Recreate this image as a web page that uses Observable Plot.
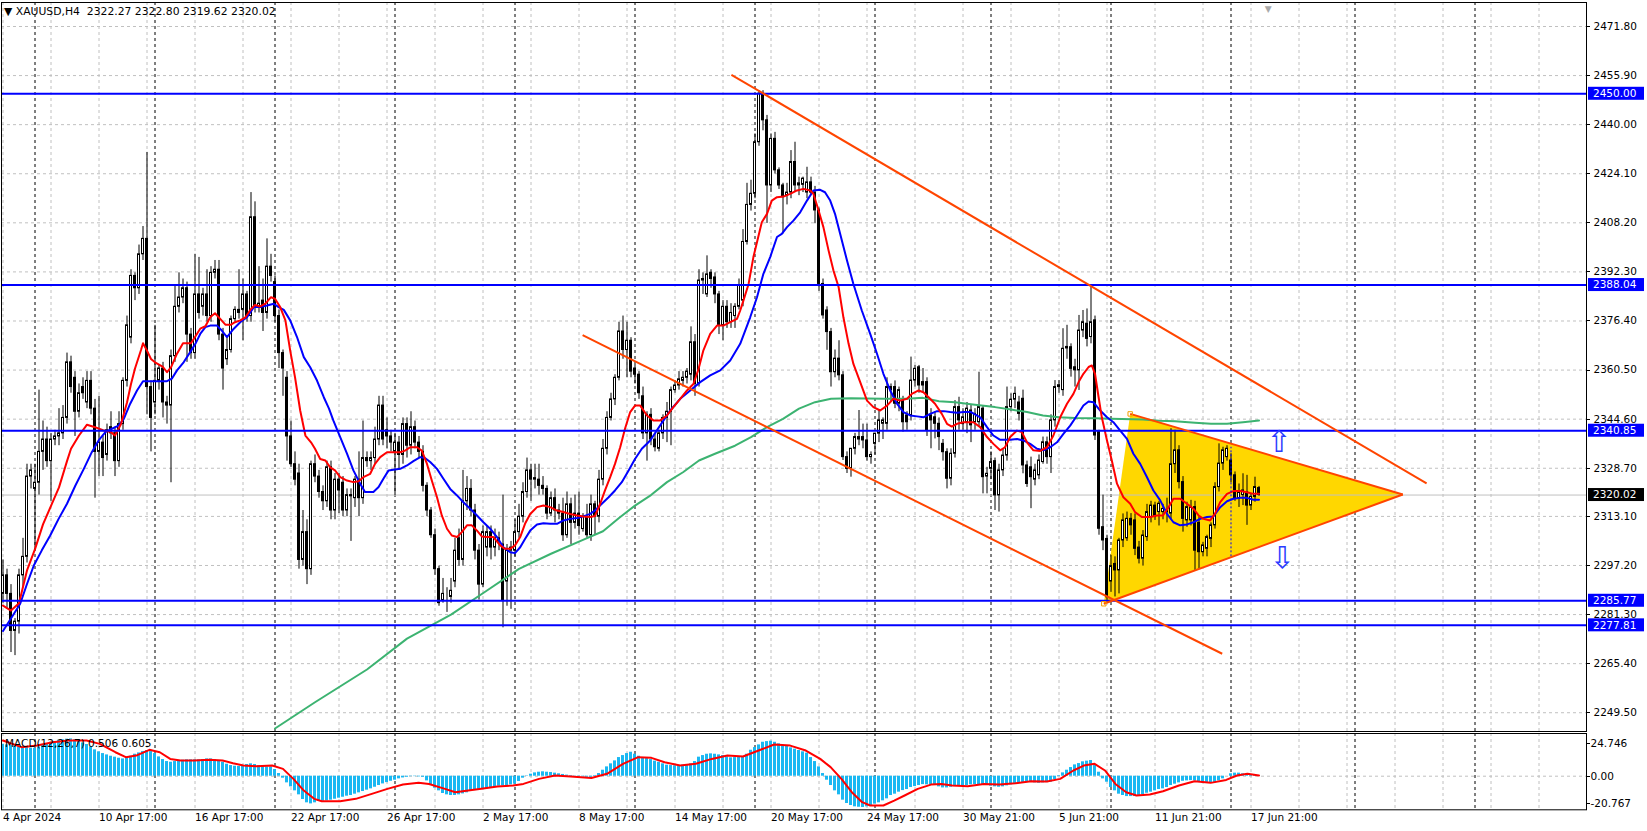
<!DOCTYPE html>
<html>
<head>
<meta charset="utf-8">
<script src="https://cdn.jsdelivr.net/npm/d3@7"></script>
<script src="https://cdn.jsdelivr.net/npm/@observablehq/plot@0.6"></script>
<style>
html,body{margin:0;padding:0;background:#fff;}
#chart{position:relative;width:1647px;height:831px;overflow:hidden;background:#fff;font-family:"DejaVu Sans",sans-serif;}
#chart svg{position:absolute;left:0;}
#title{position:absolute;left:4px;top:5px;font-size:10.8px;color:#000;white-space:pre;z-index:2;}
#macdlabel{position:absolute;left:5px;top:737px;font-size:10.5px;color:#000;white-space:pre;z-index:2;}
</style>
</head>
<body>
<div id="chart">
<div id="title">▼ XAUUSD,H4  2322.27 2322.80 2319.62 2320.02</div>
<div id="macdlabel">MACD(12,26,7) 0.506 0.605</div>
</div>
<script>
// ---------- DATA ----------
const opens = [
2288,2294,2288,2276,2279,2294,2300,2326,2322,2324,
2334,2338,2331,2338,2339,2340,2345,2363,2358,2347,
2355,2350,2357,2348,2334,2337,2333,2342,2340,2331,
2343,2357,2371,2391,2387,2398,2403,2355,2350,2357,
2361,2350,2349,2365,2381,2384,2387,2372,2366,2385,
2381,2385,2378,2392,2393,2372,2364,2367,2377,2380,
2380,2385,2378,2410,2381,2383,2379,2394,2389,2378,
2366,2358,2339,2330,2327,2299,2308,2296,2330,2326,
2321,2318,2329,2315,2325,2324,2315,2320,2319,2325,
2319,2332,2331,2332,2338,2349,2341,2339,2334,2337,
2333,2343,2336,2342,2337,2334,2323,2315,2307,2296,
2286,2288,2287,2292,2306,2299,2318,2322,2315,2302,
2291,2303,2308,2303,2306,2304,2292,2302,2302,2308,
2313,2321,2328,2325,2325,2323,2322,2314,2319,2315,
2314,2307,2317,2311,2314,2309,2313,2307,2317,2313,
2325,2335,2345,2351,2358,2373,2367,2370,2361,2359,
2352,2340,2346,2338,2335,2340,2345,2347,2354,2355.5,
2357,2358,2359,2369.5,2356,2389.5,2385,2392,2390.5,2385,
2375,2381,2376,2378,2381,2383,2402,2414,2417.6,2434.3,
2450,2441.4,2420.3,2435.4,2425.2,2420.3,2417,2418,2427.9,2420.3,
2420.5,2418,2421.3,2418,2412.2,2388.4,2379.8,2372.8,2359.8,2364.2,
2358.8,2332.3,2328.5,2335,2338,2338.8,2337.7,2332.3,2336.6,2339.9,
2343.1,2343.1,2355,2355,2349.6,2350.5,2345.8,2345.8,2357.1,2361.4,
2356.6,2356.6,2345.8,2345.2,2343.1,2336.6,2333.9,2325.3,2333.4,2348.5,
2343,2343.6,2347.4,2343.6,2343.6,2348,2326,2328.5,2331,2319.9,
2328,2332.8,2348.5,2350.9,2350,2351.2,2329.6,2329,2325,2326.4,
2330.7,2337.1,2332.3,2344.2,2355,2354,2368,2367.9,2361.4,2360.4,
2373.3,2375.5,2371.2,2376.6,2340.4,2309.6,2305.8,2292,2297.7,2295.6,
2305.3,2306,2312.3,2311.8,2303,2299.4,2306.4,2312.9,2316.6,2314.5,
2314.5,2314.5,2314,2330,2334.5,2324.2,2311.8,2311.8,2316.1,2311,
2301.5,2302.6,2305.8,2310.2,2322.6,2330.2,2332.3,2331.2,2326.4,2318.8,
2320,2321,2316.6,2319.4,2322.27];
const highs = [
2299,2296,2291,2280,2296,2306,2330,2330,2330,2354,
2344,2342,2340,2341,2348,2349,2366,2365,2360,2356,
2358,2360,2360,2351,2352,2339,2343,2347,2342,2347,
2358,2378,2393,2392,2401,2407,2431,2357,2375,2362,
2363,2352,2367,2388,2392,2390,2389,2374,2398,2397,
2387,2393,2394,2396,2396,2374,2371,2378,2381,2393,
2390,2386,2418,2415,2394,2390,2403,2398,2391,2380,
2367,2360,2344,2334,2330,2315,2312,2331,2333,2328,
2323,2331,2331,2327,2327,2326,2322,2322,2326,2334,
2344,2334,2334,2342,2352,2352,2345,2341,2340,2339,
2345,2345,2347,2344,2339,2336,2324,2316,2309,2297,
2293,2290,2293,2306,2309,2328,2326,2325,2317,2304,
2310,2310,2310,2309,2308,2320,2304,2305,2312,2317,
2324,2332,2330,2330,2330,2326,2323,2321,2322,2317,
2319,2321,2319,2320,2321,2314,2317,2320,2318,2328,
2338,2347,2353,2359,2376,2378,2376,2371,2362,2360,
2355,2347,2348,2340,2341,2346,2350,2355,2357,2360,
2360,2361,2374.5,2372,2393,2392,2397.5,2393,2392,2386,
2383,2383,2382,2382,2390,2406,2421,2422,2437,2451,
2451,2443,2437,2437.5,2426,2421,2421,2431.6,2434.3,2423,
2423,2426.2,2423,2420,2413,2390,2381,2374,2367,2370,
2360,2334,2335,2340,2347.4,2343,2343,2334,2340,2347.4,
2345,2358,2356,2357,2355,2352,2347,2364.7,2362,2362,
2361,2358,2348,2347,2345,2338,2335,2335,2350.6,2351.7,
2348,2350,2349,2348,2359.8,2349,2329,2334,2332,2330,
2335,2355,2352.8,2355,2352,2354,2331,2332.3,2330,2333,
2338.8,2338.8,2346,2357.1,2357.1,2373.9,2375,2369,2364,2378.2,
2379.8,2380.3,2387.9,2378,2341,2320,2307,2300.5,2300,2306,
2313.9,2314.5,2314,2313.9,2305,2308.5,2317,2318,2317.7,2318,
2317,2319,2341.5,2341,2336,2326,2317.7,2318.3,2318,2313,
2304.7,2307,2311,2324,2336.6,2335.5,2336,2333.4,2327.5,2323.6,
2326.9,2326.4,2320.5,2325.8,2322.8];
const lows = [
2285,2283,2269,2268,2275,2290,2298,2322,2302,2320,
2328,2329,2318,2336,2336,2338,2343,2353,2339,2345,
2351,2348,2346,2319,2326,2326,2331,2338,2326,2329,
2341,2355,2369,2383,2385,2396,2346,2334,2346,2354,
2345,2343,2324,2363,2379,2382,2363,2364,2364,2377,
2378,2376,2376,2390,2370,2354,2362,2366,2376,2377,
2370,2376,2376,2379,2379,2373,2377,2389,2376,2361,
2352,2331,2329,2323,2296,2297,2291,2294,2324,2319,
2315,2316,2312,2312,2314,2313,2313,2305,2316,2313,
2317,2329,2328,2330,2336,2336,2335,2334,2320,2328,
2330,2332,2333,2335,2332,2321,2313,2306,2294,2284,
2285,2282,2285,2290,2297,2297,2315,2313,2299,2286,
2290,2300,2299,2300,2302,2277,2284,2283,2300,2306,
2311,2319,2318,2322,2320,2320,2312,2313,2311,2312,
2305,2306,2304,2309,2307,2308,2306,2305,2307,2311,
2323,2333,2344,2349,2357,2364,2358,2358,2356,2351,
2338,2331,2336,2334,2334,2338,2337,2336,2353,2354,
2355,2356,2357,2352,2355,2385,2384,2387,2382,2372,
2370,2374,2374,2374,2380,2381,2401,2412,2416,2433,
2438,2408,2418,2424,2419,2404.6,2414,2416,2418,2417,
2418,2416,2417,2407.9,2386,2377,2366.9,2355,2358,2357,
2331.2,2327,2325.8,2333,2336,2335,2331,2330,2333,2337,
2338,2341,2350,2348,2347,2340.4,2341,2344,2355,2353,
2353,2339,2335,2338.2,2334.4,2331,2322,2323,2332,2341,
2341,2339.9,2337,2341,2342,2320.4,2320.4,2325,2315,2314.5,
2326,2331,2347,2348,2344,2326.9,2322.5,2315.6,2323,2325,
2330,2330,2327,2342,2353,2352,2364,2358.2,2355,2353.9,
2371,2368,2369,2337.7,2307,2302,2285.9,2288.5,2287,2288,
2303,2305,2307,2300.4,2297.7,2297,2305,2311,2311.8,2310,
2312,2311,2312,2327,2322,2308,2309.6,2310,2295.6,2296,
2300,2300,2303,2309,2321,2328,2331,2324,2318,2316,
2316.6,2310.2,2315,2317.7,2319.62];
const closes = [
2294,2288,2276,2279,2294,2300,2326,2328,2324,2334,
2338,2331,2338,2339,2340,2345,2363,2355,2347,2353,
2353,2357,2348,2334,2337,2332,2341,2340,2331,2343,
2357,2375,2391,2387,2398,2403,2355,2345,2357,2361,
2350,2349,2365,2381,2384,2387,2372,2366,2385,2379,
2385,2378,2392,2393,2372,2361,2367,2377,2380,2379,
2385,2378,2410,2381,2382,2379,2394,2391,2378,2366,
2361,2339,2330,2325,2299,2308,2296,2330,2326,2321,
2318,2329,2315,2325,2321.5,2315,2320,2319.6,2325,2319,
2332,2331,2332,2338,2349,2338,2339,2337,2337,2333,
2343,2336,2342,2337,2334,2323,2315,2307,2296,2285,
2288,2288,2289,2302,2299,2318,2322,2315,2302,2291,
2308,2308,2303,2306,2305,2286,2302,2303,2308,2313,
2321,2328,2325,2325.5,2323,2322,2314,2319,2315,2314,
2307,2317,2311,2314,2310,2313,2307,2317,2313,2325,
2335,2345,2351,2358,2373,2367,2370,2360,2359,2353,
2340,2346,2338,2335.5,2340,2345,2347,2354,2355.5,2357.5,
2358,2360,2369.5,2356,2389.5,2390,2391.5,2390,2385,2375,
2381,2376,2379,2381,2388,2402,2414,2417.6,2434.3,2450,
2441.4,2420.3,2435.4,2425.2,2420.3,2416.5,2418,2427.9,2420.3,2421,
2422.5,2421.3,2418,2412.2,2388.4,2378.2,2372.8,2359.8,2364.2,2358.8,
2332.3,2328.5,2335,2338.8,2338.8,2337.7,2332.3,2333,2339.9,2344.2,
2344.2,2355,2354,2349.6,2354,2343.6,2343.6,2357.1,2360.9,2355.5,
2355.5,2340.9,2344.2,2343.1,2338.8,2333.9,2325.3,2333.4,2348.5,2344.2,
2345.2,2348,2342.6,2346.3,2348.5,2325.8,2326.9,2330.7,2319.9,2328,
2332.8,2348.5,2350.9,2352.8,2346.3,2329.6,2323.6,2325.8,2328,2331.2,
2337.1,2332.3,2344.2,2355,2355.6,2367.4,2367.5,2360.9,2360.4,2373.3,
2376,2370.6,2376,2339.3,2309.1,2305.3,2286.9,2297,2295.6,2305.3,
2311.8,2312.3,2310.2,2302.6,2299.4,2306.9,2314.5,2316.6,2312.9,2317.2,
2315.5,2315,2330,2334.5,2324.2,2312.3,2316.1,2316.1,2302,2301.5,
2303.7,2306.4,2310.2,2322.6,2330.2,2334.5,2335,2326.4,2318.8,2321,
2321.5,2316.6,2319.4,2322.6,2320.02];

// moving averages: [bar, value]
const redMA = [[0,2284.2],[2,2282.6],[4,2285],[6,2295.6],[8,2302.5],[10,2310.5],[12,2316.5],[14,2322.5],[16,2331],[17,2335],[19,2339.3],[21,2342.8],[23,2342],[25,2341],[27,2340.4],[28,2339.3],[29.5,2343],[31,2350],[32,2356],[33,2361],[34.5,2367],[35,2369.2],[36,2366.8],[37,2364.1],[38,2363],[40,2361.5],[41,2359.8],[42,2361.4],[43.5,2365.8],[45,2369.2],[47,2369.2],[48,2371.2],[49.3,2373.9],[50.6,2374.7],[51.8,2377.6],[53,2378.9],[54.3,2377.1],[55.6,2375.2],[57,2375.2],[58,2376],[59.3,2376.6],[60.6,2377.6],[62,2380.3],[63,2381.6],[64.3,2381.1],[65.6,2382],[67,2384.1],[68,2383.6],[69.3,2380.9],[70.6,2376.6],[71.8,2366.8],[73,2358.2],[74.3,2347.4],[75.6,2339.3],[77,2337.1],[78,2335],[79.3,2331.7],[80.6,2331.2],[81.8,2329],[83,2328],[84.3,2325.8],[86,2324.7],[87.6,2324.2],[88.9,2324.5],[90.1,2325.8],[91.8,2326.9],[93,2330.1],[94.3,2332.3],[96,2333.9],[97.6,2333.9],[99.3,2333.9],[100.5,2334.4],[101.8,2335.5],[103.5,2335.5],[104.7,2334.4],[106,2330.1],[107.2,2324.7],[108.5,2319.3],[109.7,2313.4],[111,2309.1],[112.2,2306.9],[113.5,2306.4],[114.7,2308],[116,2310.2],[117.2,2310.2],[118.5,2308.5],[119.7,2306.6],[121,2306.4],[122.6,2306.4],[124.3,2303.7],[125.5,2302.6],[126.8,2302.6],[128,2303.7],[129.3,2306.4],[130.5,2310.7],[131.8,2313.9],[133.5,2316.1],[135.1,2316.6],[136.8,2316.1],[138.5,2315],[140.1,2314.5],[141.8,2313.9],[143.5,2313.4],[145.1,2313.1],[146.8,2312.9],[148,2313.2],[149.3,2317.2],[150.5,2321.5],[151.8,2325.8],[153,2330.1],[154.3,2335.5],[155.5,2341.5],[156.8,2346.9],[158,2349],[159.3,2349],[161,2345.8],[162.6,2344.2],[164.3,2344.2],[166,2345.8],[167.6,2348.5],[169.3,2351.2],[171,2353.9],[172.6,2356],[173.9,2360.9],[175.1,2366.9],[176.8,2372.2],[178.5,2374.9],[180.1,2374.9],[181.8,2376],[183.5,2377.1],[184.3,2379.8],[185.1,2383],[186.4,2388.4],[187.6,2397.1],[188.6,2402.5],[189.7,2408.4],[191,2411.1],[192.2,2415.4],[193.5,2416.5],[195.1,2416.7],[196.8,2417.6],[198.5,2418.7],[200.1,2419.2],[201.8,2418.7],[202.6,2417.6],[203.9,2412.2],[205.1,2406.8],[206.4,2399.2],[207.6,2392.8],[208.9,2387.4],[210.1,2377.6],[211.4,2369],[212.6,2362.5],[214.3,2356.6],[216,2350.6],[217.6,2348.5],[219.3,2347.4],[221,2349],[222.6,2351.2],[224.3,2350.6],[226,2351.2],[227.2,2352.8],[228.9,2353.9],[230.1,2353.3],[231.4,2351.7],[233,2349.6],[234.7,2346.3],[236,2343.1],[237.2,2342.2],[238.5,2343.1],[240.1,2343.6],[242.6,2343.6],[244.3,2342],[246,2338.8],[247.6,2336.6],[249.3,2334.5],[250.5,2335.5],[251.8,2338.8],[253.5,2340.9],[254.7,2340.4],[256,2337.1],[257.6,2334.5],[259.3,2334.3],[261,2335.5],[262.6,2339.3],[264.3,2345.2],[266,2349.6],[267.6,2352.8],[268.9,2356.6],[270.1,2359.3],[271.4,2361.5],[272.2,2362],[273,2359.3],[273.9,2351.7],[274.7,2345.2],[276,2337.7],[277.2,2331.2],[278.5,2323.7],[280.1,2319.3],[281.8,2317.2],[283,2314.5],[284.7,2312.9],[286.8,2312.9],[288.5,2313.4],[290,2313.4],[291.4,2316.1],[292.6,2318.8],[294.3,2318.8],[296,2317.2],[297.6,2315.6],[298.9,2313.4],[300.1,2312.3],[301.8,2311.8],[303,2314],[304.3,2317.7],[306,2320.4],[307.6,2321.3],[309.3,2321.3],[311,2320.9],[312.6,2320.4],[314,2320.4]];
const blueMA = [[0,2276],[2.7,2281.5],[4.3,2284.8],[6,2291.2],[7.7,2297.2],[9.7,2302.1],[11.8,2306.9],[13.9,2312.3],[16,2317.2],[18.1,2323.1],[20.2,2328.5],[22.2,2333.9],[23.9,2337.7],[25.6,2340.4],[27.2,2341.5],[28.9,2342.5],[30.2,2344.7],[31.8,2349.6],[33.5,2353.9],[35,2356.9],[36.8,2356.9],[38.9,2356.9],[41,2356.9],[42.2,2357.7],[43.5,2360.4],[45.2,2363.1],[46.8,2366.3],[48.1,2369],[49.3,2372.2],[50.6,2374.4],[51.8,2374.9],[53.5,2374.9],[54.7,2373.3],[56,2371.2],[57.7,2373.9],[59.3,2376],[61,2377.6],[62.7,2380.9],[64.3,2380.9],[66,2381.4],[67.7,2382],[68.9,2380.9],[70.2,2380],[71.8,2376.6],[73.5,2371.2],[75.2,2364.7],[76.8,2361.4],[78.5,2357.1],[80.2,2351.7],[81.5,2348],[82.6,2344.1],[84.3,2338.8],[86,2333.4],[87.6,2328],[89.3,2323.7],[90.5,2321],[92.6,2321],[93.9,2322.6],[95.1,2325.3],[96.4,2328],[97.6,2328.2],[99.3,2328.5],[101,2329.6],[102.6,2331],[104.3,2332.3],[105.5,2332],[106.8,2330.7],[108.5,2328.5],[110.1,2325.3],[111.8,2322],[113.5,2319.9],[115.1,2317.7],[116.8,2315.6],[118.5,2313.4],[120.1,2311.2],[121.8,2309.1],[123.5,2306.4],[125.1,2303.1],[126.8,2301.5],[128,2301.2],[129.3,2303.1],[130.5,2305.8],[131.8,2308.5],[133.5,2310.5],[135.1,2310.9],[136.8,2310.7],[138.5,2310.7],[140.1,2311.8],[141.8,2312.3],[143.5,2312.6],[145.1,2313.1],[146.8,2313.9],[148,2315],[149.7,2317.2],[151.4,2319.3],[153,2321.5],[154.7,2324.2],[156.4,2328],[158,2331.7],[159.7,2335],[161.8,2337.7],[164.3,2342.6],[166.8,2347.4],[169.3,2351.2],[171.8,2353.9],[174.3,2356.6],[176.8,2358.8],[179.3,2360.4],[181.8,2363.6],[184.3,2369],[186.8,2377.6],[188.5,2384.1],[190.1,2391.7],[191.8,2397.1],[193.5,2403.6],[194.7,2404.6],[196,2406.8],[197.6,2408.9],[199.3,2411.6],[201,2415.4],[202.6,2418.7],[204.3,2418.9],[205.5,2418.1],[206.8,2415.4],[208,2411.1],[209.3,2404.6],[211,2396],[212.6,2388.4],[214.7,2379.8],[216.8,2372.2],[218.5,2365.8],[220.1,2359.3],[221.8,2353.9],[223.5,2349.6],[225.1,2346.9],[226.8,2345.8],[228.5,2345.5],[230.1,2345.2],[231.8,2346.3],[233.5,2347.2],[235.2,2347.2],[236.8,2346.9],[238.5,2346.7],[240.1,2346.9],[242,2346.9],[244.3,2345.2],[246,2342],[247.6,2339.3],[249.3,2337.9],[251.8,2337.9],[253.5,2338.2],[255.1,2337.7],[256.8,2336.6],[258.5,2335],[260.1,2334.5],[261.8,2335.5],[263.5,2337.1],[265.1,2339.8],[266.8,2342.5],[268.5,2345.8],[270.1,2349],[271.4,2350.3],[272.6,2350.1],[274.3,2347.4],[276,2345.2],[277.6,2343.6],[279.3,2340.9],[281,2338.2],[282.6,2333.4],[284.3,2330.1],[286,2325.8],[287.6,2321.5],[289.3,2318.3],[291,2313.9],[292.6,2311.2],[294.3,2310.2],[296,2310.5],[297.6,2311.2],[299.3,2312.3],[301,2312.9],[302.6,2313.1],[304.3,2316.1],[306,2318],[307.6,2318.8],[309.3,2319.1],[311,2319.1],[312.6,2318.5],[314,2318.5]];
const greenMA = [[68,2244.4],[78,2252.9],[91,2263.5],[101,2273.5],[112,2281.3],[121,2289.1],[129,2296.1],[137,2301],[145,2305.5],[150,2308.3],[154,2312.6],[158,2316.6],[162,2320],[166,2324.2],[170,2327.4],[174,2331.2],[178,2333.4],[183,2336],[187,2338.8],[191,2342],[195,2344.7],[199,2348],[203,2350.1],[207,2351.2],[212,2351.4],[220,2351.2],[226,2351.2],[230,2351.5],[234,2350.4],[238,2350.1],[243,2349.3],[248,2348.5],[252,2347.7],[256,2346.9],[260,2345.8],[264,2345.2],[268,2345],[273,2344.9],[277,2344.7],[285,2344.5],[289,2344.1],[293,2343.9],[298,2343.4],[302,2343.1],[306,2343.1],[310,2343.6],[314,2344.2]];

// MACD(12,26,7) main values (histogram) per bar, and signal line points
const macdMain = [
24,23.5,23,22.5,22,22,21.5,21,21,22,
23.5,24.5,25.5,26,27,27.3,27.8,28,27.3,26.3,
25,23.8,22,19.8,18.3,17,16,15,14.3,13.5,
13,14,15,16.5,17.5,18.5,19.3,18.5,17,14.5,
12.5,11,10.5,11,11.8,12,12.3,12.3,12.3,12.3,
12.5,13,13,12.5,11.8,10.5,9,8,7.5,7.3,
8,8.8,9.3,8.8,8,7.5,7,6.8,5,2,
-1.5,-5,-8,-11,-14,-17.5,-20,-20.8,-20,-19,
-18.8,-18.5,-18,-17.3,-16.5,-15.8,-15,-14.5,-13.5,-12.5,
-11.5,-10.5,-9.5,-8.3,-7,-5.8,-4.8,-3.8,-3,-2,
-1.3,-0.8,-0.3,-0.3,-0.5,-0.8,-3.5,-6.5,-9,-11,
-13,-14,-14.5,-14.5,-14,-13.3,-12.5,-11.5,-10.8,-10.3,
-9.8,-9.5,-8.8,-8,-7.5,-7.3,-7,-6.5,-6,-4,
-1.5,0.3,1.5,2.5,3,3.3,3,2.8,2.3,1.8,
1.3,0.8,0.5,0.2,-0.3,-0.5,-0.8,-0.8,0.5,2,
4.5,7,9.3,11.5,14,15.5,17,18,16.5,15,
14,13.3,12.5,11.3,10.5,9.3,8.3,8,7.8,8,
8.3,8.8,9.3,11,14.3,15.5,16.5,16.8,16.5,16,
15.5,14.5,13.8,14,14.5,14.8,16.5,19.5,21.5,23.5,
25.5,26,26.3,25.5,24.3,23.3,22.3,21.3,20.3,19.3,
18.3,17.3,14,11,7,2,-3,-7,-11,-14,
-18,-20.5,-22,-23,-23.3,-23.5,-23,-22.5,-21,-20,
-18.5,-17,-14.5,-13.5,-12,-10.8,-10,-8.5,-7.8,-7,
-6.3,-6.5,-6.8,-7,-8,-8.8,-8.8,-8.3,-7.8,-7.3,
-7,-7,-6.5,-6.3,-6.3,-7,-7,-7.5,-8,-8.3,
-8,-7.3,-6.5,-5.8,-5.3,-5,-4.8,-4.5,-5,-5.3,
-5,-4.8,-4.5,-2.5,0.5,2.5,4.5,6.5,8.5,9.5,
10.8,11.3,11.8,8,3,-2,-4.5,-8.5,-11,-13.5,
-14.5,-15.3,-15.3,-15.3,-14.5,-13.8,-12.8,-12,-11,-10,
-9.5,-8.5,-7,-6,-5,-3.8,-3.5,-3.3,-3.5,-4.5,
-5.3,-5.3,-5.3,-5,-3.5,-2,0,1.8,2.3,2.3,
1.8,1.3,1,1,0.506];
const macdSignal = [[0,26.8],[4.6,21.8],[8.5,23],[12.4,25.5],[16.3,26.8],[20.9,26.8],[24.2,24.3],[28.1,18],[30.7,14.3],[33.3,15.5],[36.6,19.8],[39.2,18],[41.8,13],[44.4,11.8],[47.7,11.8],[51.6,12.3],[54.9,11.8],[57.5,9.8],[60.1,8],[63.4,7.5],[67.3,8],[70,5.5],[72.6,-2],[75.2,-10.8],[77.8,-17],[79.7,-18.8],[84.3,-18.8],[88.2,-17],[92.2,-13.3],[96.1,-9.5],[100,-6.3],[103.9,-5],[106.5,-5.8],[110.5,-9.5],[113.1,-12],[116.3,-10.8],[119.6,-9.5],[123.6,-7.8],[127.5,-7],[130.1,-5.8],[134,-2],[138,0.5],[141.9,-0.3],[147.1,-1.3],[151,1.8],[155,9.3],[158.8,14.3],[162.1,13.8],[165.4,10.5],[169.3,8],[173.2,9.3],[177.2,13],[181.1,15.5],[185,14.8],[188.9,19.3],[192.8,23.8],[196.8,23],[200.7,19.3],[204.3,13],[206.9,6.8],[209.6,-2],[212.2,-12],[214.8,-19.5],[216.8,-22],[220.1,-22],[222.8,-18.3],[225.4,-14.5],[228.7,-9.5],[232,-6.3],[234.6,-5.8],[237.3,-7],[241.2,-7.5],[245.2,-5.8],[249.1,-6.3],[253.1,-5.3],[257,-3.8],[261,-4],[264.3,-2],[267.6,4.3],[270.2,8],[272.9,9.3],[275.5,4.3],[278.1,-5.8],[280.8,-12],[283.4,-14.5],[286.7,-13.8],[290,-11.3],[294,-7],[297.9,-3.8],[301.9,-5],[305.8,-2.8],[308.5,0.5],[311.1,1.8],[314,0.605]];

// axes / levels / objects
const priceTicks = [2471.80,2455.90,2440.00,2424.10,2408.20,2392.30,2376.40,2360.50,2344.60,2328.70,2313.10,2297.20,2281.30,2265.40,2249.50];
const macdTicks = [24.746, 0, -20.767];
const macdTickLabels = ["24.746", "0.00", "-20.767"];
const levels = [2450.00, 2388.04, 2340.85, 2285.77, 2277.81];
const bid = 2320.02;
const gridBars = [0,12,24,36,48,60,72,84,96,108,120,132,144,156,168,180,192,204,216,228,240,252,264,276,288,300,312,324,336,348,360,372,384];
const weekBars = [8,38,68,98,128,158,188,218,247,277,307,338,368];
const xLabelBars = [0,24,48,72,96,120,144,168,192,216,240,264,288,312];
const xLabelTexts = ["4 Apr 2024","10 Apr 17:00","16 Apr 17:00","22 Apr 17:00","26 Apr 17:00","2 May 17:00","8 May 17:00","14 May 17:00","20 May 17:00","24 May 17:00","30 May 21:00","5 Jun 21:00","11 Jun 21:00","17 Jun 21:00"];
const trendLines = [
  {x1:182.1, y1:2456.15, x2:355.9, y2:2323.8},
  {x1:144.9, y1:2371.8, x2:304.8, y2:2268.6}
];
const triangleVerts = [[275.2,2284.8],[281.8,2346.3],[349.95,2320.2]];
const arrowMarks = [{b:319, v:2337.1, t:"⇧"}, {b:319.8, v:2299.4, t:"⇩"}];
const markerLine = {b:307, y1:2300, y2:2335.5};
const shiftMarkerBar = 316.3;

// ---------- BUILD ----------
const X_DOMAIN = [-0.375, 395.875];
const bars = closes.map((c, i) => ({i, o: opens[i], h: highs[i], l: lows[i], c}));
const pts = arr => arr.map(([b, v]) => ({b, v}));
const tri = pts([...triangleVerts, triangleVerts[0]]);
const triEdges = [
  {x1: triangleVerts[1][0], y1: triangleVerts[1][1], x2: triangleVerts[2][0], y2: triangleVerts[2][1]},
  {x1: triangleVerts[0][0], y1: triangleVerts[0][1], x2: triangleVerts[2][0], y2: triangleVerts[2][1]}
];
const baseStyle = {background: "transparent", fontFamily: "DejaVu Sans, sans-serif", fontSize: "10.5px", color: "#000", overflow: "visible"};

const priceChart = Plot.plot({
  width: 1647, height: 733,
  marginLeft: 1, marginRight: 61, marginTop: 2, marginBottom: 2,
  style: baseStyle,
  x: {type: "linear", domain: X_DOMAIN, axis: null},
  y: {type: "linear", domain: [2243.42, 2479.57], axis: null},
  marks: [
    Plot.ruleY(priceTicks, {stroke: "#c0c0c0", strokeDasharray: "3,3"}),
    Plot.ruleX(gridBars, {stroke: "#c0c0c0", strokeDasharray: "3,3"}),
    Plot.ruleX(weekBars, {stroke: "#000", strokeDasharray: "3,3"}),
    Plot.line(tri, {x: "b", y: "v", fill: "#ffd700", stroke: "none"}),
    Plot.ruleY([bid], {stroke: "#c0c0c0"}),
    Plot.ruleX(bars, {x: "i", y1: "l", y2: "h", stroke: "#000", strokeWidth: 1}),
    Plot.rect(bars, {x1: d => d.i - 0.25, x2: d => d.i + 0.25, y1: "o", y2: "c",
      fill: d => d.c >= d.o ? "#ffffff" : "#000000", stroke: "#000", strokeWidth: 1}),
    Plot.line(pts(greenMA), {x: "b", y: "v", stroke: "#3cb371", strokeWidth: 2}),
    Plot.line(pts(blueMA), {x: "b", y: "v", stroke: "#0000ff", strokeWidth: 2}),
    Plot.line(pts(redMA), {x: "b", y: "v", stroke: "#ff0000", strokeWidth: 2}),
    Plot.ruleY(levels, {stroke: "#0000ff", strokeWidth: 2}),
    Plot.ruleX([markerLine], {x: "b", y1: "y1", y2: "y2", stroke: "#0000ff", strokeDasharray: "2,2"}),
    Plot.link(trendLines, {x1: "x1", y1: "y1", x2: "x2", y2: "y2", stroke: "#ff4500", strokeWidth: 2}),
    Plot.link(triEdges, {x1: "x1", y1: "y1", x2: "x2", y2: "y2", stroke: "#ff4500", strokeWidth: 2}),
    Plot.dot(pts(triangleVerts.slice(0, 2)), {x: "b", y: "v", symbol: "square", r: 2.5, stroke: "#f5a000", fill: "none", strokeWidth: 1}),
    Plot.text(arrowMarks, {x: "b", y: "v", text: "t", fill: "#2b3cff", fontSize: 30, fontFamily: "DejaVu Sans"}),
    Plot.text([shiftMarkerBar], {x: d => d, frameAnchor: "top", text: () => "▼", fill: "#a9a9a9", fontSize: 9, dy: 3}),
    Plot.frame({stroke: "#000"}),
    Plot.text(priceTicks, {y: d => d, text: d => d.toFixed(2), frameAnchor: "right", dx: 7, textAnchor: "start", fill: "#000"})
  ]
});
priceChart.style.top = "0px";

const macdChart = Plot.plot({
  width: 1647, height: 100,
  marginLeft: 1, marginRight: 61, marginTop: 2, marginBottom: 21.7,
  style: baseStyle,
  x: {type: "linear", domain: X_DOMAIN, axis: null},
  y: {type: "linear", domain: [-25.24, 32.08], axis: null},
  marks: [
    Plot.ruleX(gridBars, {stroke: "#c0c0c0", strokeDasharray: "3,3"}),
    Plot.ruleX(weekBars, {stroke: "#000", strokeDasharray: "3,3"}),
    Plot.ruleY([0], {stroke: "#c0c0c0", strokeDasharray: "3,3"}),
    Plot.rect(macdMain.map((v, i) => ({i, v})), {x1: d => d.i - 0.375, x2: d => d.i + 0.375, y1: () => 0, y2: "v", fill: "#1ab8f2"}),
    Plot.line(pts(macdSignal), {x: "b", y: "v", stroke: "#ff0000", strokeWidth: 2}),
    Plot.frame({stroke: "#000"}),
    Plot.text(macdTicks, {y: d => d, text: (d, i) => macdTickLabels[i], frameAnchor: "right", dx: 4, textAnchor: "start", fill: "#000"}),
    Plot.text(xLabelBars, {x: d => d, text: (d, i) => xLabelTexts[i], frameAnchor: "bottom", dy: 11, textAnchor: "start", fill: "#000"})
  ]
});
macdChart.style.top = "731px";

const chart = document.getElementById("chart");
chart.appendChild(priceChart);
chart.appendChild(macdChart);

// right-side tick marks and value boxes, placed with Plot's own scales
function decorate(svgNode, ticks, boxes) {
  const ys = svgNode.scale("y");
  const xs = svgNode.scale("x");
  const right = xs.range[1];
  const svg = d3.select(svgNode);
  const g = svg.append("g").attr("text-anchor", "start");
  ticks.forEach(t => {
    const y = Math.round(ys.apply(t)) + 0.5;
    g.append("line").attr("x1", right).attr("x2", right + 4).attr("y1", y).attr("y2", y).attr("stroke", "#000");
  });
  boxes.forEach(b => {
    const y = ys.apply(b.value);
    g.append("rect").attr("x", right + 2).attr("y", y - 6.5).attr("width", 56).attr("height", 13).attr("fill", b.fill);
    g.append("text").attr("x", right + 7).attr("y", y).attr("dy", "0.36em").attr("fill", "#fff")
      .attr("text-anchor", "start")
      .attr("font-family", "DejaVu Sans, sans-serif").attr("font-size", "10.5px").text(b.value.toFixed(2));
  });
}
decorate(priceChart, priceTicks, [
  ...levels.map(v => ({value: v, fill: "#0000ff"})),
  {value: bid, fill: "#000000"}
]);
decorate(macdChart, macdTicks, []);
</script>
</body>
</html>
